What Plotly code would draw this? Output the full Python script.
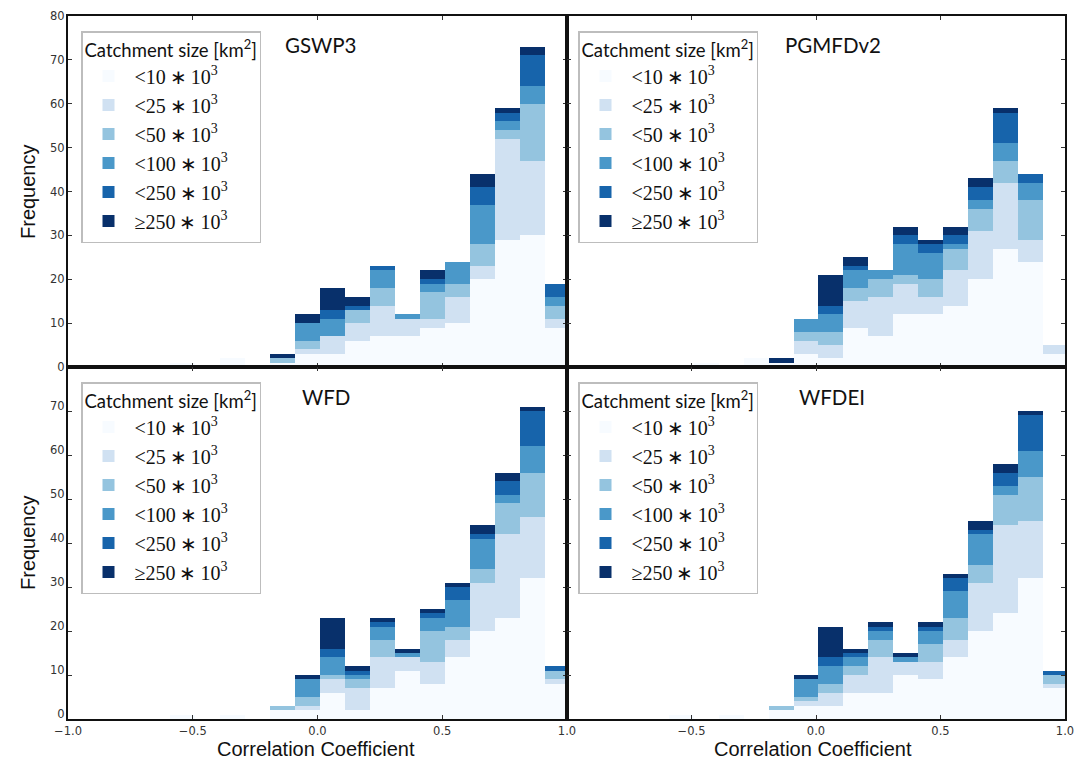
import plotly.graph_objects as go

# ---------------- data ----------------
bin_edges = [-0.59, -0.49, -0.39, -0.29, -0.19, -0.09, 0.01, 0.11, 0.21,
             0.31, 0.41, 0.51, 0.61, 0.71, 0.81, 0.91, 1.01]

size_labels = ["&lt;10\u2009\u2217\u200910<sup>3</sup>",
               "&lt;25\u2009\u2217\u200910<sup>3</sup>",
               "&lt;50\u2009\u2217\u200910<sup>3</sup>",
               "&lt;100\u2009\u2217\u200910<sup>3</sup>",
               "&lt;250\u2009\u2217\u200910<sup>3</sup>",
               "\u2265250\u2009\u2217\u200910<sup>3</sup>"]
size_colors = ["#f7fbff", "#d0e1f2", "#94c4df", "#4a98c9", "#1764ab", "#08306b"]

panel_names = ["GSWP3", "PGMFDv2", "WFD", "WFDEI"]

gswp3_counts = [
    [1, 0, 2, 0, 1, 3, 3, 6, 7, 7, 9, 10, 20, 29, 30, 9],
    [0, 0, 0, 0, 0, 1, 4, 4, 7, 4, 2, 6, 3, 23, 17, 2],
    [0, 0, 0, 0, 1, 2, 0, 3, 4, 0, 6, 3, 5, 2, 13, 3],
    [0, 0, 0, 0, 0, 4, 4, 0, 4, 1, 2, 5, 9, 2, 4, 2],
    [0, 0, 0, 0, 0, 0, 2, 1, 1, 0, 1, 0, 4, 2, 7, 3],
    [0, 0, 0, 0, 1, 2, 5, 2, 0, 0, 2, 0, 3, 1, 2, 0],
]
pgmfd_counts = [
    [0, 1, 0, 2, 1, 3, 2, 9, 7, 12, 12, 14, 20, 27, 24, 3],
    [0, 0, 0, 0, 0, 3, 3, 6, 9, 7, 4, 8, 11, 15, 5, 2],
    [0, 0, 0, 0, 0, 2, 3, 3, 4, 2, 4, 5, 5, 5, 9, 0],
    [0, 0, 0, 0, 0, 3, 4, 4, 2, 7, 6, 1, 2, 4, 4, 0],
    [0, 0, 0, 0, 0, 0, 2, 1, 0, 2, 2, 2, 3, 7, 2, 0],
    [0, 0, 0, 0, 1, 0, 7, 2, 0, 2, 1, 2, 2, 1, 0, 0],
]
wfd_counts = [
    [1, 0, 1, 0, 2, 2, 6, 2, 7, 11, 8, 14, 20, 23, 32, 8],
    [0, 0, 0, 0, 0, 1, 3, 5, 7, 3, 5, 4, 11, 19, 14, 1],
    [0, 0, 0, 0, 1, 2, 1, 2, 4, 0, 7, 3, 3, 7, 10, 2],
    [0, 0, 0, 0, 0, 4, 4, 1, 3, 1, 3, 6, 7, 2, 6, 0],
    [0, 0, 0, 0, 0, 0, 2, 1, 1, 0, 1, 3, 1, 3, 8, 1],
    [0, 0, 0, 0, 0, 1, 7, 1, 1, 1, 1, 1, 2, 2, 1, 0],
]
wfdei_counts = [
    [1, 0, 1, 0, 2, 3, 3, 6, 6, 10, 9, 14, 20, 24, 32, 7],
    [0, 0, 0, 0, 0, 1, 3, 4, 8, 3, 4, 4, 11, 20, 13, 1],
    [0, 0, 0, 0, 1, 1, 2, 2, 4, 0, 4, 5, 4, 7, 10, 2],
    [0, 0, 0, 0, 0, 4, 4, 2, 2, 1, 3, 6, 7, 2, 6, 0],
    [0, 0, 0, 0, 0, 0, 2, 1, 1, 0, 1, 3, 1, 3, 8, 1],
    [0, 0, 0, 0, 0, 1, 7, 1, 1, 1, 1, 1, 2, 2, 1, 0],
]

x_ticks = [-1.0, -0.5, 0.0, 0.5, 1.0]
x_ticklabels = ["\u22121.0", "\u22120.5", "0.0", "0.5", "1.0"]
y_ticks = [0, 10, 20, 30, 40, 50, 60, 70, 80]

# ---------------- figure ----------------
W, H = 1080, 762

centers = [(a + b) / 2 for a, b in zip(bin_edges[:-1], bin_edges[1:])]
widths = [b - a for a, b in zip(bin_edges[:-1], bin_edges[1:])]

all_counts = [gswp3_counts, pgmfd_counts, wfd_counts, wfdei_counts]
axis_ids = [("x", "y"), ("x2", "y2"), ("x3", "y3"), ("x4", "y4")]
legend_ids = ["legend", "legend2", "legend3", "legend4"]

fig = go.Figure()
for p, counts in enumerate(all_counts):
    xa, ya = axis_ids[p]
    for k, vals in enumerate(counts):
        fig.add_trace(go.Bar(
            x=centers, y=vals, width=widths,
            name=size_labels[k],
            marker=dict(color=size_colors[k], line=dict(width=0)),
            xaxis=xa, yaxis=ya,
            legend=legend_ids[p],
            legendgroup=f"p{p}c{k}",
            showlegend=True,
            hoverinfo="skip",
        ))

def px(v):
    return v / W

def py(v):
    return 1 - v / H

x_dom_left = [px(68), px(567)]
x_dom_right = [px(567), px(1065)]
y_dom_top = [py(367), py(16)]
y_dom_bot = [py(719), py(367)]

tick_font = dict(family="DejaVu Sans", size=11.5, color="#333333")

def xaxis(domain, anchor, labels):
    return dict(
        domain=domain, anchor=anchor, range=[-1, 1],
        tickmode="array", tickvals=x_ticks,
        ticktext=labels if labels else [""] * len(x_ticks),
        showticklabels=bool(labels),
        ticks="inside", ticklen=4, tickwidth=1, tickcolor="#333333",
        showline=True, linecolor="#111111", linewidth=2, mirror="ticks",
        showgrid=False, zeroline=False, tickfont=tick_font,
        ticklabelstandoff=0,
    )

def yaxis(domain, anchor, tickvals, labels, shift=0):
    return dict(
        domain=domain, anchor=anchor, range=[0, 80],
        tickmode="array", tickvals=tickvals,
        ticktext=[str(v) for v in tickvals],
        showticklabels=labels,
        ticks="inside", ticklen=4, tickwidth=1, tickcolor="#333333",
        showline=True, linecolor="#111111", linewidth=2, mirror="ticks",
        showgrid=False, zeroline=False, tickfont=tick_font,
        ticklabelstandoff=-1, ticklabelshift=shift,
    )

right_labels = [""] + x_ticklabels[1:]

legend_style = dict(
    bgcolor="white", bordercolor="#bdbdbd", borderwidth=1.5,
    xanchor="left", yanchor="top",
    font=dict(family="Liberation Serif", size=20, color="#111111"),
    title=dict(text="Catchment size [km<sup>2</sup>]",
               font=dict(family="Lato", size=18.5, color="#111111")),
    itemwidth=42, tracegroupgap=11, traceorder="normal",
)

def leg(x, y):
    d = dict(legend_style)
    d.update(x=px(x), y=py(y))
    return d

fig.update_layout(
    width=W, height=H,
    margin=dict(l=0, r=0, t=0, b=0, autoexpand=False),
    paper_bgcolor="white", plot_bgcolor="white",
    barmode="stack", bargap=0,
    xaxis=xaxis(x_dom_left, "y", None),
    yaxis=yaxis(y_dom_top, "x", y_ticks, True),
    xaxis2=xaxis(x_dom_right, "y2", None),
    yaxis2=yaxis(y_dom_top, "x2", y_ticks, False),
    xaxis3=xaxis(x_dom_left, "y3", x_ticklabels),
    yaxis3=yaxis(y_dom_bot, "x3", y_ticks[:-1], True, shift=-5),
    xaxis4=xaxis(x_dom_right, "y4", right_labels),
    yaxis4=yaxis(y_dom_bot, "x4", y_ticks[:-1], False),
    legend=leg(81, 31),
    legend2=leg(578, 31),
    legend3=leg(81, 382),
    legend4=leg(578, 382),
    showlegend=True,
)

title_font = dict(family="Lato", size=20.5, color="#111111")
title_pos = [(283, 45), (783, 45), (300, 397), (797, 397)]
for name, (tx, ty) in zip(panel_names, title_pos):
    fig.add_annotation(text=name, x=px(tx), y=py(ty), xref="paper", yref="paper",
                       xanchor="left", yanchor="middle", showarrow=False, font=title_font)

label_font = dict(family="Liberation Sans", size=20, color="#111111")
for cy in (192, 543):
    fig.add_annotation(text="Frequency", x=px(28), y=py(cy), xref="paper", yref="paper",
                       textangle=-90, showarrow=False, font=label_font,
                       xanchor="center", yanchor="middle")
for cx in (316, 813):
    fig.add_annotation(text="Correlation Coefficient", x=px(cx), y=py(749),
                       xref="paper", yref="paper", showarrow=False, font=label_font,
                       xanchor="center", yanchor="middle")

# make the page itself margin-free so the 1080x762 figure fills the window exactly
page_css = ("document.documentElement.style.margin='0';"
            "document.documentElement.style.padding='0';"
            "document.body.style.margin='0';"
            "document.body.style.padding='0';"
            "document.documentElement.style.overflow='hidden';"
            "document.body.style.overflow='hidden';")

fig.write_html("out.html", post_script=page_css)
